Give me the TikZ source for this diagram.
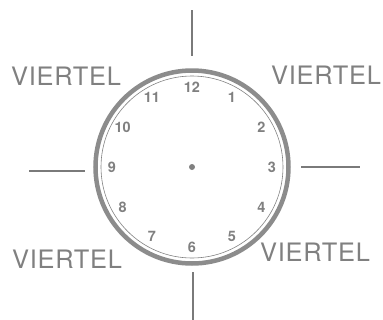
\documentclass[tikz,border=0pt]{standalone}
\usepackage{fontspec}
\setmainfont{TeX Gyre Heros}
\newfontfamily\quarterfont[LetterSpace=3]{TeX Gyre Heros}
\usetikzlibrary{calc}
\begin{document}
\begin{tikzpicture}[x=1bp,y=-1bp,
  ink/.style={color=black!50},
  quarter/.style={ink,font=\quarterfont\fontsize{25.5}{27}\selectfont,inner sep=0pt},
  hour/.style={ink,font=\bfseries\fontsize{14.5}{15}\selectfont,inner sep=0pt},
  tick/.style={draw=black!52,line width=1.5bp}]
\useasboundingbox (0,0) rectangle (383,320);
\coordinate (c) at (192,167);
\draw[draw=black!45,line width=4.5bp] (c) circle[radius=96.5];
\draw[draw=black!50,line width=0.6bp] (c) circle[radius=91];
\fill[black!50] (c) circle[radius=3];
\foreach \h in {1,...,12}{
  \node[hour] (h\h) at ($(c)+({90-30*\h}:80 and -80)$) {\h};
}
\coordinate (t1) at (192,10); \coordinate (t2) at (192,56);
\coordinate (b1) at (193,272); \coordinate (b2) at (193,320);
\coordinate (l1) at (29,171); \coordinate (l2) at (85,171);
\coordinate (r1) at (301,167); \coordinate (r2) at (360,167);
\draw[tick] (t1) -- (t2);
\draw[tick] (b1) -- (b2);
\draw[tick] (l1) -- (l2);
\draw[tick] (r1) -- (r2);
\node[quarter] (q1) at (66,76) {VIERTEL};
\node[quarter] (q2) at (326,75) {VIERTEL};
\node[quarter] (q3) at (67,259) {VIERTEL};
\node[quarter] (q4) at (315,252) {VIERTEL};
\end{tikzpicture}
\end{document}
